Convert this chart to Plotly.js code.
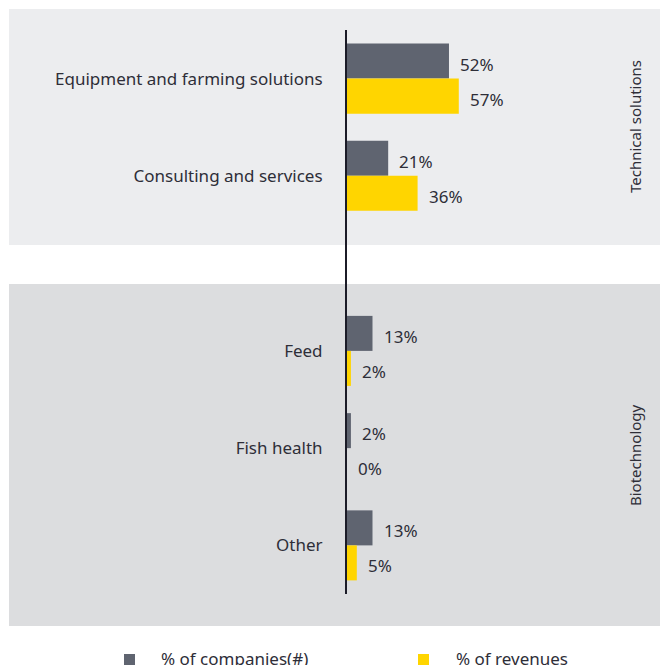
<!DOCTYPE html>
<html>
<head>
<meta charset="utf-8">
<script src="https://cdn.plot.ly/plotly-3.0.1.min.js"></script>
<style>html,body{margin:0;padding:0;background:#fff;}#chart{width:660px;height:665px;}</style>
</head>
<body>
<div id="chart"></div>
<script>
const categories = ['Equipment and farming solutions', 'Consulting and services', 'Feed', 'Fish health', 'Other'];
const categoryGroups = ['Technical solutions', 'Technical solutions', 'Biotechnology', 'Biotechnology', 'Biotechnology'];
const groupNames = ['Technical solutions', 'Biotechnology'];
const seriesNames = ['% of companies(#)', '% of revenues'];
const companiesPct = [52, 21, 13, 2, 13];
const revenuesPct = [57, 36, 2, 0, 5];

const GRAY = '#5f6470', YELLOW = '#ffd500', TEXT = '#2e2e38';
const FONT = 'Noto Sans, sans-serif';

// y positions: one unit per category, extra gap between groups
const pos = [];
let offset = 0;
categories.forEach((c, i) => {
  if (i > 0 && categoryGroups[i] !== categoryGroups[i - 1]) offset += 0.8;
  pos.push(i + offset);
});

const traces = [
  {type: 'bar', orientation: 'h', name: seriesNames[0], y: pos, x: companiesPct,
   marker: {color: GRAY}, hoverinfo: 'skip'},
  {type: 'bar', orientation: 'h', name: seriesNames[1], y: pos, x: revenuesPct,
   marker: {color: YELLOW}, hoverinfo: 'skip'}
];

// plot area geometry (pixels)
const L = 347, R = 60, T = 30, B = 71, W = 660, H = 665;
const pw = W - L - R, ph = H - T - B;
const px = x => (x - L) / pw;
const py = y => (H - B - y) / ph;

const annotations = [];
const half = 0.18;
const valFont = {family: FONT, size: 17, color: TEXT};
companiesPct.forEach((v, i) => annotations.push({x: v, y: pos[i] - half, xref: 'x', yref: 'y',
  text: v + '%', showarrow: false, xanchor: 'left', xshift: 9, yshift: -3, font: valFont}));
revenuesPct.forEach((v, i) => annotations.push({x: v, y: pos[i] + half, xref: 'x', yref: 'y',
  text: v + '%', showarrow: false, xanchor: 'left', xshift: 9, yshift: -3, font: valFont}));

// group labels (vertical)
const groupCenters = [127, 455];
groupNames.forEach((g, i) => annotations.push({x: px(635), y: py(groupCenters[i]), xref: 'paper', yref: 'paper',
  text: g, textangle: -90, showarrow: false, xanchor: 'center', yanchor: 'middle',
  font: {family: FONT, size: 15, color: TEXT}}));

// manual legend
const legendItems = [{sx: 124, tx: 159, color: GRAY}, {sx: 418, tx: 454, color: YELLOW}];
const shapes = [
  {type: 'rect', xref: 'paper', yref: 'paper', x0: px(9), x1: px(660), y0: py(245), y1: py(9),
   fillcolor: '#ecedef', line: {width: 0}, layer: 'below'},
  {type: 'rect', xref: 'paper', yref: 'paper', x0: px(9), x1: px(660), y0: py(626), y1: py(284),
   fillcolor: '#dcdddf', line: {width: 0}, layer: 'below'}
];
legendItems.forEach((it, i) => {
  shapes.push({type: 'rect', xref: 'paper', yref: 'paper', x0: px(it.sx), x1: px(it.sx + 11),
    y0: py(665), y1: py(654), fillcolor: it.color, line: {width: 0}});
  annotations.push({x: px(it.tx), y: py(658), xref: 'paper', yref: 'paper', text: seriesNames[i],
    showarrow: false, xanchor: 'left', yanchor: 'middle', font: {family: FONT, size: 17, color: TEXT}});
});

const layout = {
  width: W, height: H,
  margin: {l: L, r: R, t: T, b: B, pad: 0},
  paper_bgcolor: '#ffffff', plot_bgcolor: 'rgba(0,0,0,0)',
  barmode: 'group', bargap: 0.28, bargroupgap: 0,
  showlegend: false,
  font: {family: FONT, size: 17, color: TEXT},
  xaxis: {range: [0, 129], visible: false, fixedrange: true},
  yaxis: {range: [5.3, -0.5], tickvals: pos, ticktext: categories, showgrid: false, zeroline: false,
    showline: true, linecolor: '#1c1c28', linewidth: 2, ticks: '', ticklabelstandoff: 19,
    tickfont: {family: FONT, size: 17, color: TEXT}, fixedrange: true},
  shapes: shapes,
  annotations: annotations
};

Plotly.newPlot('chart', traces, layout, {displayModeBar: false, staticPlot: true});
</script>
</body>
</html>
